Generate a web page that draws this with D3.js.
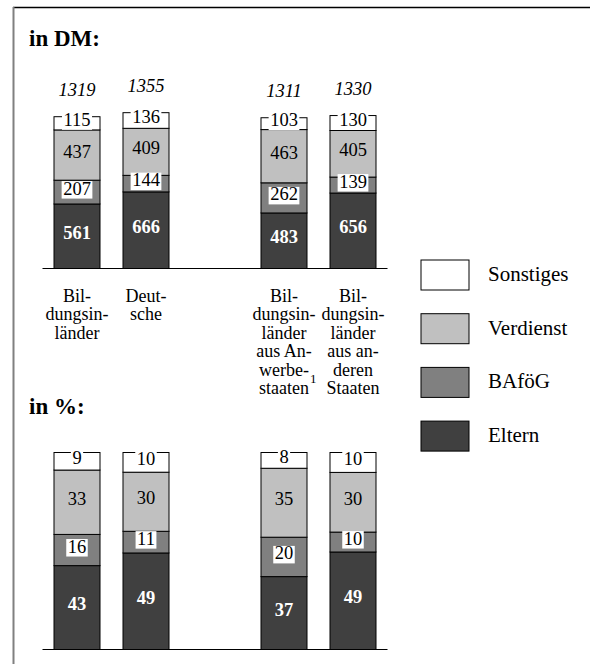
<!DOCTYPE html>
<html><head><meta charset="utf-8">
<script src="https://cdn.jsdelivr.net/npm/d3@7"></script>
<style>body{margin:0;background:#fff}svg{display:block}</style>
</head><body>
<script>
// ---- data ----
const categories = ["Bildungsinländer", "Deutsche", "Bildungsinländer aus Anwerbestaaten", "Bildungsinländer aus anderen Staaten"];
const categoryLines = [
  ["Bil-", "dungsin-", "länder"],
  ["Deut-", "sche"],
  ["Bil-", "dungsin-", "länder", "aus An-", "werbe-", "staaten"],
  ["Bil-", "dungsin-", "länder", "aus an-", "deren", "Staaten"]
];
const footnotes = ["", "", "1", ""];
const seriesKeys = ["Eltern", "BAföG", "Verdienst", "Sonstiges"];
const legendKeys = ["Sonstiges", "Verdienst", "BAföG", "Eltern"];
const totalsDM = [1319, 1355, 1311, 1330];
const elternDM = [561, 666, 483, 656];
const bafoegDM = [207, 144, 262, 139];
const verdienstDM = [437, 409, 463, 405];
const sonstigesDM = [115, 136, 103, 130];
const elternPct = [43, 49, 37, 49];
const bafoegPct = [16, 11, 20, 10];
const verdienstPct = [33, 30, 35, 30];
const sonstigesPct = [9, 10, 8, 10];
const titles = ["in DM:", "in %:"];

// ---- styles ----
const colors = {Eltern: "#404040", "BAföG": "#808080", Verdienst: "#c0c0c0", Sonstiges: "#ffffff"};
const FONT = "'Liberation Serif','Times New Roman',Times,serif";

const W = 590, H = 664;
const svg = d3.select("body").append("svg").attr("width", W).attr("height", H)
  .style("font-family", FONT);
svg.append("rect").attr("width", W).attr("height", H).attr("fill", "#fff");

// frame
svg.append("line").attr("x1", 13).attr("x2", W).attr("y1", 7.5).attr("y2", 7.5)
  .attr("stroke", "#000").attr("stroke-width", 1.5);
svg.append("line").attr("x1", 13.5).attr("x2", 13.5).attr("y1", 7).attr("y2", H)
  .attr("stroke", "#808080").attr("stroke-width", 2);

// x scale (with an empty slot between the two groups)
const xDomain = [categories[0], categories[1], "", categories[2], categories[3]];
const x = d3.scaleBand().domain(xDomain).range([42.5, 387.5]).paddingInner(1/3).paddingOuter(1/6);

function makeRows(e, b, v, s) {
  return categories.map((c, i) => ({cat: c, Eltern: e[i], "BAföG": b[i], Verdienst: v[i], Sonstiges: s[i]}));
}

function drawChart(rows, y, offset, totals) {
  const g = svg.append("g");
  const stack = d3.stack().keys(seriesKeys).offset(offset);
  const layers = stack(rows);
  // bars
  layers.forEach(layer => {
    g.selectAll(null).data(layer).join("rect")
      .attr("x", d => x(d.data.cat))
      .attr("width", x.bandwidth())
      .attr("y", d => y(d[1]))
      .attr("height", d => y(d[0]) - y(d[1]))
      .attr("fill", colors[layer.key])
      .attr("stroke", "#000").attr("stroke-width", 1);
  });
  // baseline
  g.append("line").attr("x1", x.range()[0]).attr("x2", x.range()[1])
    .attr("y1", y(0)).attr("y2", y(0)).attr("stroke", "#000").attr("stroke-width", 1.2);
  // labels
  layers.forEach(layer => {
    const key = layer.key;
    layer.forEach(d => {
      const cx = x(d.data.cat) + x.bandwidth() / 2;
      const base = (y(d[0]) + y(d[1])) / 2 + 2.5;
      const lg = g.append("g");
      const t = lg.append("text").attr("x", cx).attr("y", base)
        .attr("text-anchor", "middle").attr("font-size", 18.5)
        .attr("fill", key === "Eltern" ? "#fff" : "#000")
        .attr("font-weight", key === "Eltern" ? "bold" : "normal")
        .text(d.data[key]);
      if (key === "BAföG" || key === "Sonstiges") {
        const w = t.node().getComputedTextLength();
        lg.insert("rect", "text").attr("x", cx - w / 2 - 1.5).attr("width", w + 3)
          .attr("y", base - 13.5).attr("height", 17.5).attr("fill", "#fff");
      }
    });
  });
  // totals
  if (totals) {
    const top = layers[layers.length - 1];
    g.selectAll(null).data(top).join("text")
      .attr("x", d => x(d.data.cat) + x.bandwidth() / 2)
      .attr("y", d => y(d[1]) - 21)
      .attr("text-anchor", "middle").attr("font-size", 18.5).attr("font-style", "italic")
      .text((d, i) => totals[i]);
  }
}

// titles
svg.append("text").attr("x", 29).attr("y", 46).attr("font-size", 23).attr("font-weight", "bold")
  .text(titles[0]);
svg.append("text").attr("x", 29).attr("y", 414).attr("font-size", 23).attr("font-weight", "bold")
  .text(titles[1]);

// DM chart
const yDM = d3.scaleLinear().domain([0, 1400]).range([268.5, 107.5]);
drawChart(makeRows(elternDM, bafoegDM, verdienstDM, sonstigesDM), yDM, d3.stackOffsetNone, totalsDM);

// percent chart (normalised stacks)
const yPct = d3.scaleLinear().domain([0, 1]).range([649.5, 452.5]);
drawChart(makeRows(elternPct, bafoegPct, verdienstPct, sonstigesPct), yPct, d3.stackOffsetExpand, null);

// category labels
categories.forEach((c, i) => {
  const cx = x(c) + x.bandwidth() / 2;
  const lines = categoryLines[i];
  lines.forEach((ln, j) => {
    const yy = 302 + j * 18.4;
    const t = svg.append("text").attr("x", cx).attr("y", yy).attr("text-anchor", "middle")
      .attr("font-size", 18).text(ln);
    if (j === lines.length - 1 && footnotes[i]) {
      const w = t.node().getComputedTextLength();
      svg.append("text").attr("x", cx + w / 2 + 1).attr("y", yy - 11)
        .attr("font-size", 13).text(footnotes[i]);
    }
  });
});

// legend
legendKeys.forEach((k, i) => {
  const y0 = 260 + i * 53.7;
  svg.append("rect").attr("x", 421).attr("y", y0).attr("width", 48).attr("height", 30)
    .attr("fill", colors[k]).attr("stroke", "#000").attr("stroke-width", 1);
  svg.append("text").attr("x", 488).attr("y", y0 + 15 + 6).attr("font-size", 21)
    .text(k);
});
</script>
</body></html>
